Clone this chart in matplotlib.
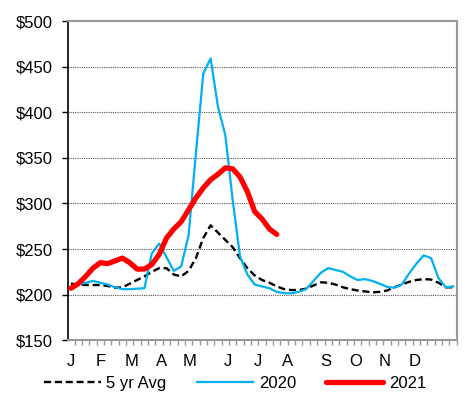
import numpy as np
import matplotlib
matplotlib.use("Agg")
import matplotlib.pyplot as plt

plt.rcParams["font.family"] = ["Liberation Sans", "DejaVu Sans"]

# weekly prices, week index 0..52
avg_5yr = [212, 211, 210.5, 210.5, 210.5, 209.5, 207.5, 208, 212, 216,
           220, 225, 229, 229, 222, 220, 226, 240, 262, 276,
           268, 260, 252, 240, 229, 221, 216, 213, 209, 206,
           205, 205, 206.5, 210, 213.5, 213, 211, 208, 206, 204.5,
           203.5, 202.5, 203, 204.5, 208, 211, 214, 216, 217, 216.5,
           213, 208, 208]
y2020 = [208, 211, 213, 215, 213, 211, 208, 206, 206, 206.5,
         207, 245, 256, 241, 226, 231, 265, 355, 442, 459,
         406, 375, 304, 242, 222, 211, 209, 207, 203, 201.5,
         201.5, 203, 206, 215, 224, 229, 227, 225, 220, 216,
         217, 215, 212, 208.5, 207.5, 211, 223, 234, 243, 240,
         218, 208, 209]
y2021 = [207, 212, 220, 229, 235, 234, 237, 240, 235, 228,
         228, 233, 244, 262, 272, 280, 293, 306, 317, 326,
         332, 339, 338, 329, 313, 291, 283, 272, 266]

month_labels = ["J", "F", "M", "A", "M", "J", "J", "A", "S", "O", "N", "D"]
month_weeks = [0, 4.1, 8.2, 12.3, 16.2, 21.3, 25.4, 29.4, 34.7, 38.7, 42.7, 46.8]


def main():
    fig = plt.figure(figsize=(4.7, 4.05), dpi=100)
    ax = fig.add_axes([0.1447, 0.160, 0.8273, 0.788])

    ax.plot(range(len(avg_5yr)), avg_5yr, color="black", linewidth=1.7,
            linestyle=(0, (3, 1.6)), label="5 yr Avg", zorder=3)
    ax.plot(range(len(y2020)), y2020, color="#00B0F0", linewidth=1.6,
            label="2020", zorder=4)
    ax.plot(range(len(y2021)), y2021, color="#FF0000", linewidth=3.8,
            solid_capstyle="round", label="2021", zorder=5)

    ax.set_ylim(150, 500)
    ax.set_xlim(-0.4, 52.4)
    ax.set_yticks(np.arange(150, 501, 50))
    ax.set_yticklabels([f"${v}" for v in range(150, 501, 50)], fontsize=12)
    ax.yaxis.grid(True, color="#555555", linestyle=(0, (1, 1)), linewidth=0.8)
    ax.set_axisbelow(True)

    ax.set_xticks(month_weeks)
    ax.set_xticklabels(month_labels, fontsize=12)
    ax.set_xticks(np.arange(0, 53) + 0.5, minor=True)
    ax.tick_params(axis="x", which="major", length=0, pad=10)
    ax.tick_params(axis="x", which="minor", length=3.5, color="#999999", width=1)
    ax.tick_params(axis="y", length=4.3, width=1, color="black", pad=6.5)

    ax.spines["left"].set_color("black")
    ax.spines["left"].set_linewidth(1.2)
    for side in ["top", "right", "bottom"]:
        ax.spines[side].set_color("#999999")
        ax.spines[side].set_linewidth(1.5)

    fig.legend(loc="center", bbox_to_anchor=(0.5, 0.054), ncol=3, frameon=False,
               fontsize=12, handlelength=3.4, handletextpad=0.35, columnspacing=1.8)

    fig.savefig("out.png", dpi=100)
    plt.close(fig)


if __name__ == "__main__":
    main()
